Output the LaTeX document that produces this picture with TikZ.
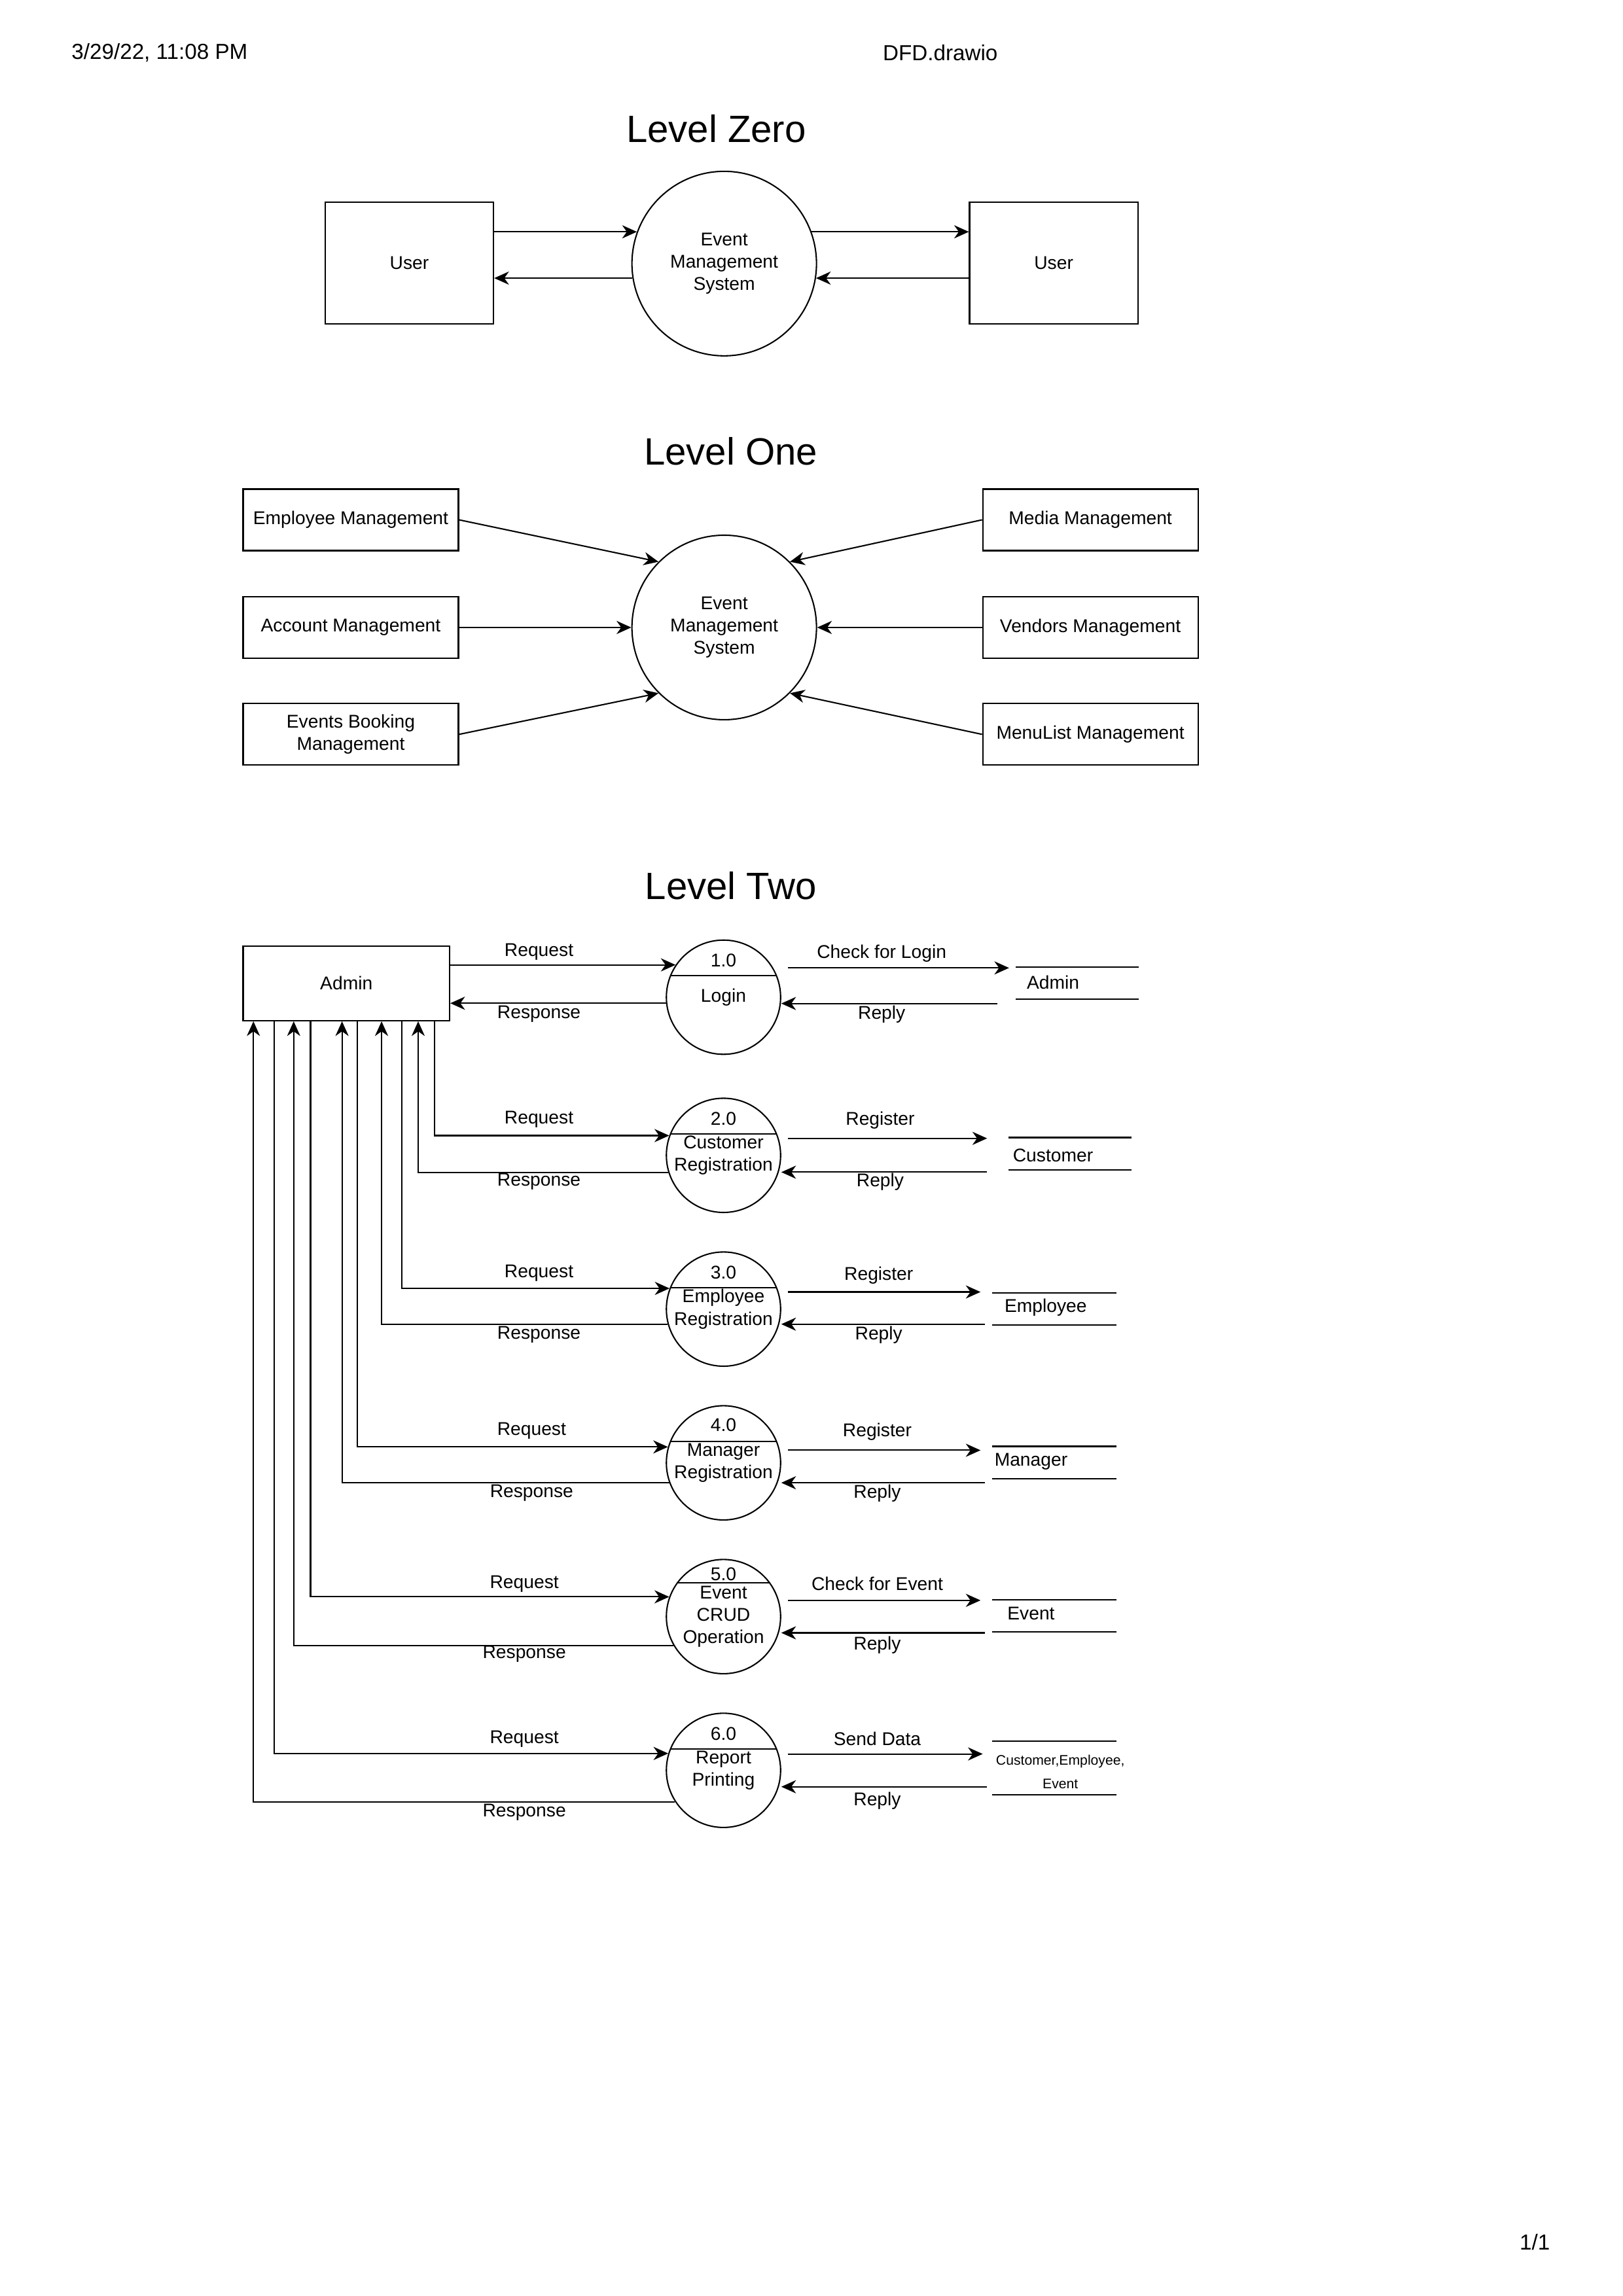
\documentclass[tikz,border=0pt]{standalone}
\usepackage{fontspec}
\setmainfont{Liberation Sans}
\usetikzlibrary{arrows.meta}

\newlength{\pxu}
\setlength{\pxu}{0.18943mm}
\newcommand{\nodefont}{\fontsize{6.8pt}{8.2pt}\selectfont}

\tikzset{
	flow/.style={line width=0.5pt, -{Stealth[length=1.9mm, width=1.7mm, inset=0.6mm]}},
	plain/.style={line width=0.5pt},
	entity/.style={draw, line width=0.5pt, inner sep=0pt, align=center, font=\nodefont},
	process/.style={draw, circle, line width=0.5pt, inner sep=0pt, align=center, font=\nodefont},
	storeline/.style={draw, line width=0.5pt},
	store/.style={inner sep=0pt, minimum width=84*\pxu, minimum height=21*\pxu,
		append after command={(\tikzlastnode.north west) edge[storeline] (\tikzlastnode.north east)
			(\tikzlastnode.south west) edge[storeline] (\tikzlastnode.south east)}},
	lbl/.style={inner sep=0pt, font=\nodefont},
	title/.style={inner sep=0pt, font=\fontsize{14pt}{16pt}\selectfont},
	hdr/.style={inner sep=0pt, font=\fontsize{8pt}{9.6pt}\selectfont}
}

\begin{document}
\begin{tikzpicture}[x=0.18943mm, y=-0.18943mm, line width=0.5pt]
	\useasboundingbox (0,0) rectangle (1108,1568);
	% Kopfzeile und Seitenzahl
	\node[hdr] (date) at (109,36) {3/29/22, 11:08 PM};
	\node[hdr] (fname) at (642,36) {DFD.drawio};
	\node[hdr] (pageno) at (1048,1531) {1/1};
	% Level Zero
	\node[title] (lvl0) at (489,88) {Level Zero};
	\node[entity, minimum width=115*\pxu, minimum height=83*\pxu] (user1) at (279.5,179.5) {User};
	\node[process, minimum size=126*\pxu] (ems0) at (494.5,180) {Event\\Management\\System};
	\node[entity, minimum width=115*\pxu, minimum height=83*\pxu] (user2) at (719.5,179.5) {User};
	\draw[flow] (user1.east |- ems0.160) -- (ems0.160);
	\draw[flow] (ems0.189) -- (user1.east |- ems0.189);
	\draw[flow] (ems0.20) -- (user2.west |- ems0.20);
	\draw[flow] (user2.west |- ems0.351) -- (ems0.351);
	% Level One
	\node[title] (lvl1) at (499,308) {Level One};
	\node[process, minimum size=126*\pxu] (ems1) at (494.5,428.5) {Event\\Management\\System};
	\foreach \n/\y/\txt in {empm/355/Employee Management, accm/428.5/Account Management, evbm/501.5/{Events Booking\\Management}}
		\node[entity, minimum width=147*\pxu, minimum height=42*\pxu] (\n) at (239.5,\y) {\txt};
	\foreach \n/\y/\txt in {medm/355/Media Management, venm/428.5/Vendors Management, menm/501.5/MenuList Management}
		\node[entity, minimum width=147*\pxu, minimum height=42*\pxu] (\n) at (744.5,\y) {\txt};
	\draw[flow] (empm.east) -- (ems1.135);
	\draw[flow] (accm.east) -- (ems1.west);
	\draw[flow] (evbm.east) -- (ems1.225);
	\draw[flow] (medm.west) -- (ems1.45);
	\draw[flow] (venm.west) -- (ems1.east);
	\draw[flow] (menm.west) -- (ems1.315);
	% Level Two
	\node[title] (lvl2) at (499,605) {Level Two};
	\node[entity, minimum width=141*\pxu, minimum height=51*\pxu] (admin) at (236.5,671.5) {Admin};
	% Prozesse mit Nummer und Trennlinie
	\foreach \k/\y/\da/\no/\txt in {1/681/22/25/Login, 2/789/22/25/{Customer\\Registration},
		3/894/22/25/{Employee\\Registration}, 4/999/22/26/{Manager\\Registration},
		5/1104/36/29/{Event\\CRUD\\Operation}, 6/1209/22/25/{Report\\Printing}}
	{
		\node[process, minimum size=78*\pxu] (p\k) at (494,\y) {\txt};
		\node[lbl] (n\k) at ([yshift=\no*\pxu]p\k.center) {\k.0};
		\pgfmathtruncatemacro\db{180-\da}
		\draw[plain] (p\k.\db) -- (p\k.\da);
	}
	% Datenspeicher
	\node[store, minimum width=83*\pxu] (s1) at (735.5,671.5) {};
	\node[store, minimum width=83*\pxu] (s2) at (730.5,787.8) {};
	\node[store] (s3) at (720,894) {};
	\node[store] (s4) at (720,998.7) {};
	\node[store] (s5) at (720,1103.5) {};
	\node[store, minimum height=35.5*\pxu] (s6) at (720,1207.4) {};
	\node[lbl] (st1) at (719,671) {Admin};
	\node[lbl] (st2) at (719,789) {Customer};
	\node[lbl] (st3) at (714,893) {Employee};
	\node[lbl] (st4) at (704,998) {Manager};
	\node[lbl] (st5) at (704,1102) {Event};
	\node[lbl, align=center, font=\fontsize{5.1pt}{8.6pt}\selectfont] (st6) at (724,1210) {Customer,Employee,\\Event};
	% Admin <-> Prozesse
	\draw[flow] (admin.east |- p1.146) -- (p1.146);
	\draw[flow] (p1.186) -- (admin.east |- p1.186);
	\foreach \k/\qx/\sx/\qa/\sa in {2/131/120/160/197, 3/109/95/159/195, 4/78.5/68/164/200,
		5/46.5/35/160/210, 6/21.5/7.5/163/213}
	{
		\draw[flow] ([xshift=\qx*\pxu]admin.south west) |- (p\k.\qa);
		\draw[flow] (p\k.\sa) -| ([xshift=\sx*\pxu]admin.south west);
	}
	\foreach \k/\x/\qy/\sy in {1/368/650/692.5, 2/368/764.6/806.7, 3/368/869.3/911.5,
		4/363/977.3/1019.5, 5/358/1081.6/1129.3, 6/358/1187.7/1237.6}
	{
		\node[lbl] (rq\k) at (\x,\qy) {Request};
		\node[lbl] (rs\k) at (\x,\sy) {Response};
	}
	% Prozesse <-> Datenspeicher
	\foreach \k/\ox/\oy/\rx/\ry in {1/689/661/681/685.3, 2/674/777.4/674/800.5,
		3/669.5/882.3/672.5/904.3, 4/669.5/990.4/672.5/1012.6,
		5/669.5/1092.9/672.5/1115.1, 6/671/1197.8/674/1220.2}
	{
		\coordinate (o\k) at (\ox,\oy);
		\coordinate (r\k) at (\rx,\ry);
		\draw[flow, shorten <=0.9mm] (o\k -| p\k.east) -- (o\k);
		\draw[flow] (r\k) -- (r\k -| p\k.east);
	}
	\foreach \k/\x/\oy/\ry/\txt in {1/602/651/692.5/Check for Login, 2/601/765/807/Register,
		3/600/871/911.5/Register, 4/599/978/1020/Register,
		5/599/1081.6/1123.3/Check for Event, 6/599/1187.6/1229.8/Send Data}
	{
		\node[lbl] (ol\k) at (\x,\oy) {\txt};
		\node[lbl] (rl\k) at (\x,\ry) {Reply};
	}
\end{tikzpicture}
\end{document}
